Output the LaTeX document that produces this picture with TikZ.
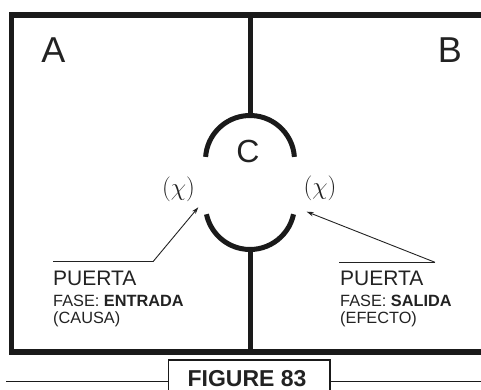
\documentclass[tikz,border=0pt]{standalone}
\usepackage{fontspec}
\setmainfont{Liberation Sans}
\usetikzlibrary{arrows.meta}
\definecolor{ink}{HTML}{1A1A1A}
\definecolor{txt}{HTML}{222222}
\tikzset{
  frame/.style={draw=ink, line width=5.5pt},
  wall/.style={draw=ink, line width=5pt},
  doorarc/.style={draw=ink, line width=5pt},
  leader/.style={draw=txt, line width=0.9pt},
  pointer/.style={leader, -{Stealth[length=7pt,width=4.5pt]}},
  bigletter/.style={inner sep=0pt, text=txt, font=\fontsize{36}{40}\selectfont},
  chilabel/.style={inner sep=0pt, text=txt, font=\fontsize{24}{27}\selectfont},
  title/.style={inner sep=0pt, anchor=base west, text=txt, font=\fontsize{21}{25}\selectfont},
  sub/.style={inner sep=0pt, anchor=base west, text=txt, font=\fontsize{16.3}{19}\selectfont},
  capbox/.style={draw=ink, line width=1.3pt},
  capline/.style={draw=ink, line width=1.3pt},
}
\begin{document}
\begin{tikzpicture}[x=1pt,y=1pt]
\useasboundingbox (0,0) rectangle (481,390);
\clip (0,0) rectangle (481,390);
% outer frame (right side outside the picture)
\draw[frame] (500,38) -- (11.5,38) -- (11.5,375) -- (500,375);
% walls and door arcs
\coordinate (wtop) at (250,375);
\coordinate (arctop) at (250,274.5);
\coordinate (arcbot) at (250,140.5);
\coordinate (wbot) at (250,38);
\draw[wall] (wtop) -- (arctop);
\draw[wall] (arcbot) -- (wbot);
\draw[doorarc] (250,230) ++(4:44.5) arc[start angle=4, end angle=176, radius=44.5];
\draw[doorarc] (250,185) ++(-12:44.5) arc[start angle=-12, end angle=-168, radius=44.5];
% letters
\node[bigletter] (A) at (53.3,340) {A};
\node[bigletter] (B) at (449.8,340) {B};
\node[inner sep=0pt, text=txt, font=\fontsize{32}{36}\selectfont] (C) at (248,238.5) {C};
\node[chilabel] (chiL) at (178.5,201) {$(\chi)$};
\node[chilabel] (chiR) at (320,202) {$(\chi)$};
% leaders
\coordinate (tipL) at (198.3,182.7);
\coordinate (tipR) at (306.7,178.3);
\coordinate (lL1) at (53,128.3);
\coordinate (lL2) at (153,128.3);
\coordinate (lR1) at (339,127.7);
\coordinate (lR2) at (435,127.7);
\draw[leader] (lL1) -- (lL2);
\draw[pointer] (lL2) -- (tipL);
\draw[leader] (lR1) -- (lR2);
\draw[pointer] (lR2) -- (tipR);
% texts
\node[title] (pL) at (53,104.3) {PUERTA};
\node[sub] (fL) at (53,83.3) {FASE: \textbf{ENTRADA}};
\node[sub] (cL) at (53,66) {(CAUSA)};
\node[title] (pR) at (340,104.3) {PUERTA};
\node[sub] (fR) at (340,83.3) {FASE: \textbf{SALIDA}};
\node[sub] (cR) at (340,66) {(EFECTO)};
% caption
\draw[capbox] (168.3,-10) rectangle (330,30);
\coordinate (cap1) at (6,8.3);
\coordinate (cap2) at (168.3,8.3);
\coordinate (cap3) at (330,8.3);
\coordinate (cap4) at (490,8.3);
\draw[capline] (cap1) -- (cap2);
\draw[capline] (cap3) -- (cap4);
\node[inner sep=0pt, anchor=base, text=txt, font=\fontsize{23}{27}\selectfont\bfseries] (fig) at (247,3) {FIGURE 83};
\end{tikzpicture}
\end{document}
